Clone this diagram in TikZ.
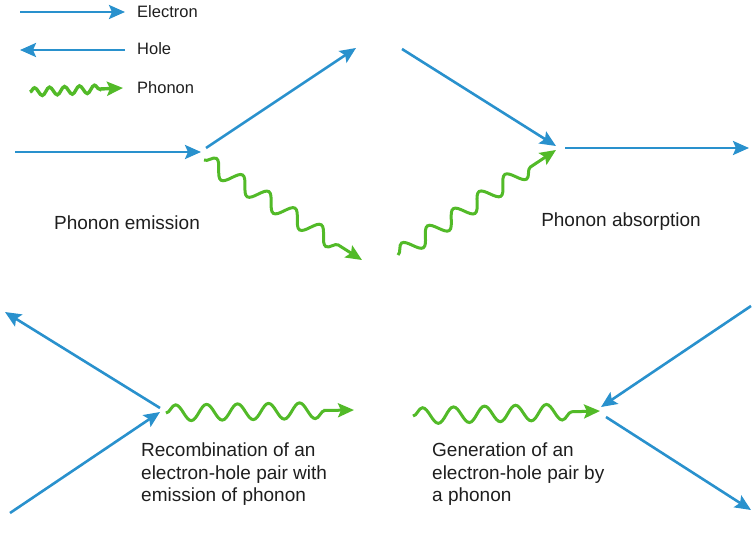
\documentclass[tikz,border=0pt]{standalone}
\usepackage{fontspec}
\setmainfont{Liberation Sans}
\usetikzlibrary{arrows.meta,decorations.pathmorphing,positioning}

\definecolor{eblue}{RGB}{41,145,205}
\definecolor{pgreen}{RGB}{82,186,40}
\definecolor{ltext}{RGB}{30,30,30}

\begin{document}
\begin{tikzpicture}[x=1pt,y=-1pt,
  carrier/.style={draw=eblue, line width=2.6pt, -{Stealth[length=16pt,width=14pt,inset=3pt]}},
  phonon/.style={draw=pgreen, line width=3pt, -{Stealth[length=16pt,width=14pt,inset=3pt]},
    decorate, decoration={snake, amplitude=8pt, segment length=31pt, post length=26pt}},
  caption/.style={text=ltext, font=\fontsize{19}{22.5}\selectfont, inner sep=0pt},
  legend/.style={text=ltext, font=\fontsize{16.5}{20}\selectfont, inner sep=0pt, anchor=west}]
\useasboundingbox (0,0) rectangle (752,538);

% legend
\node[legend] (lElec) at (137,12) {Electron};
\node[legend] (lHole) at (137,49) {Hole};
\node[legend] (lPhon) at (137,88) {Phonon};
\coordinate (le1) at (20,12);  \coordinate (le2) at (125,12);
\coordinate (lh1) at (125,50); \coordinate (lh2) at (20,50);
\coordinate (lp1) at (30,92);  \coordinate (lp2) at (123,88);
\draw[carrier] (le1) -- (le2);
\draw[carrier] (lh1) -- (lh2);
\draw[phonon, line width=3.4pt, decoration={amplitude=4pt, segment length=15pt, post length=22pt}] (lp1) -- (lp2);

% phonon emission
\coordinate (emA) at (15,152);  \coordinate (emB) at (201,152);
\coordinate (emC) at (206,148); \coordinate (emD) at (356,48);
\coordinate (emE) at (204,160); \coordinate (emF) at (362,260);
\draw[carrier] (emA) -- (emB);
\draw[carrier] (emC) -- (emD);
\draw[phonon] (emE) -- (emF);
\node[caption] (emLab) at (127,223) {Phonon emission};

% phonon absorption
\coordinate (abA) at (402,49);  \coordinate (abB) at (556,146);
\coordinate (abC) at (565,148); \coordinate (abD) at (749,148);
\coordinate (abE) at (398,255); \coordinate (abF) at (556,150);
\draw[carrier] (abA) -- (abB);
\draw[carrier] (abC) -- (abD);
\draw[phonon] (abE) -- (abF);
\node[caption] (abLab) at (621,222) {Phonon absorption};

% recombination
\coordinate (reA) at (160,408); \coordinate (reB) at (5,312);
\coordinate (reC) at (10,513);  \coordinate (reD) at (160,412);
\coordinate (reE) at (166,413); \coordinate (reF) at (354,410);
\draw[carrier] (reA) -- (reB);
\draw[carrier] (reC) -- (reD);
\draw[phonon] (reE) -- (reF);
\node[caption, align=left, anchor=north west] (reLab) at (141,443)
  {Recombination of an\\electron-hole pair with\\emission of phonon};

% generation
\coordinate (geA) at (751,306); \coordinate (geB) at (601,407);
\coordinate (geC) at (606,417); \coordinate (geD) at (751,510);
\coordinate (geE) at (413,416); \coordinate (geF) at (600,411);
\draw[carrier] (geA) -- (geB);
\draw[carrier] (geC) -- (geD);
\draw[phonon] (geE) -- (geF);
\node[caption, align=left, anchor=north west] (geLab) at (432,443)
  {Generation of an\\electron-hole pair by\\a phonon};
\end{tikzpicture}
\end{document}
